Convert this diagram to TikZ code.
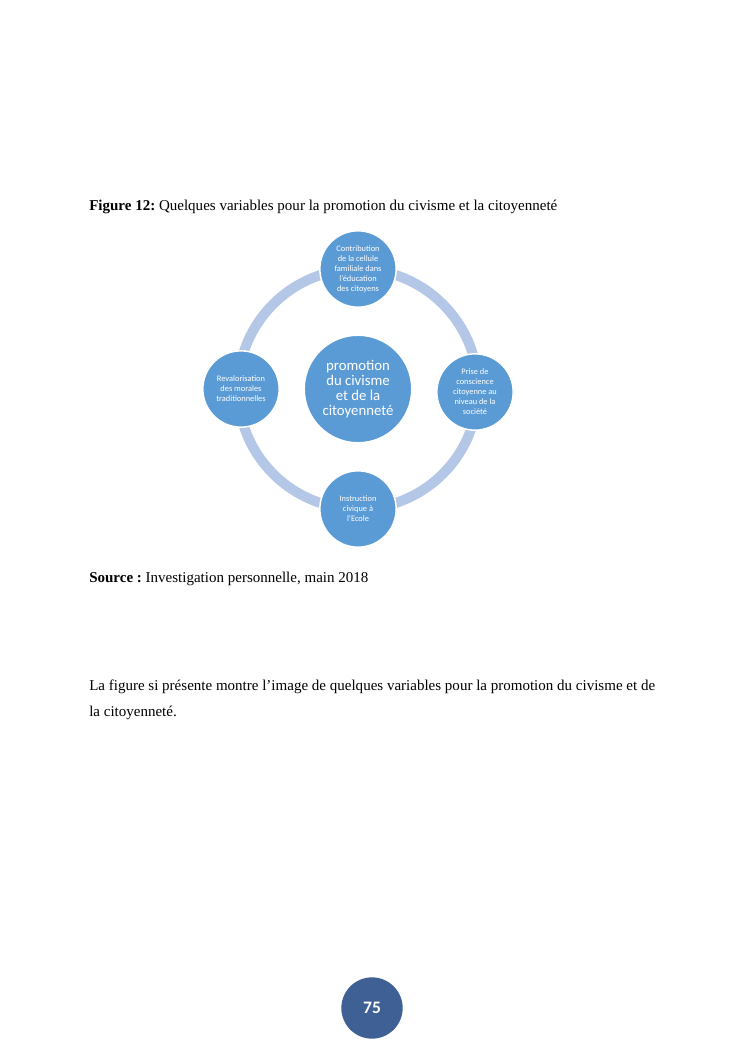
\documentclass[tikz,border=0pt]{standalone}
\usepackage{fontspec}
\setmainfont{Liberation Serif}
\newfontfamily\calib{Carlito}
\definecolor{accent}{HTML}{5B9BD5}
\definecolor{ringc}{HTML}{B4C7E7}
\definecolor{pagec}{HTML}{3E6094}
\frenchspacing
\tikzset{
  bodytext/.style={anchor=base west, inner sep=0pt, font=\fontsize{12}{14}\selectfont},
  satellite/.style={circle, fill=accent, draw=white, line width=1.2pt, minimum size=61pt, inner sep=0pt,
     text=white, align=center, font=\calib\fontsize{6.7}{8}\selectfont},
  hub/.style={circle, fill=accent, draw=white, line width=1.2pt, minimum size=86pt, inner sep=0pt,
     text=white, align=center, font=\calib\fontsize{11.8}{12.2}\selectfont},
  ringline/.style={draw=ringc, line width=8pt},
  pagebadge/.style={circle, fill=pagec, minimum size=49pt, inner sep=0pt, text=white,
     font=\calib\bfseries\fontsize{14}{16}\selectfont}
}
\begin{document}
\begin{tikzpicture}[x=0.7991pt,y=-0.7991pt]
\useasboundingbox (0,0) rectangle (745,1053);
\fill[white] (0,0) rectangle (745,1053);

\node[bodytext] (cap) at (89,210) {\textbf{Figure 12:} Quelques variables pour la promotion du civisme et la citoyenneté};

\coordinate (c) at (358,389);
\draw[ringline] (c) circle[radius=120];
\node[hub] (hub) at (c) {promotion\\du civisme\\et de la\\citoyenneté};
\node[satellite] (top) at (358,269) {Contribution\\de la cellule\\familiale dans\\l’éducation\\des citoyens};
\node[satellite] (right) at (475,392) {Prise de\\conscience\\citoyenne au\\niveau de la\\société};
\node[satellite] (bottom) at (358,509) {Instruction\\civique à\\l’Ecole};
\node[satellite] (left) at (241,389) {Revalorisation\\des morales\\traditionnelles};

\node[bodytext] (src) at (89,582) {\textbf{Source :} Investigation personnelle, main 2018};

\node[bodytext] (p1) at (89,690) {La figure si présente montre l’image de quelques variables pour la promotion du civisme et de};
\node[bodytext] (p2) at (89,716) {la citoyenneté.};

\node[pagebadge] (page) at (372,1008) {75};
\end{tikzpicture}
\end{document}
